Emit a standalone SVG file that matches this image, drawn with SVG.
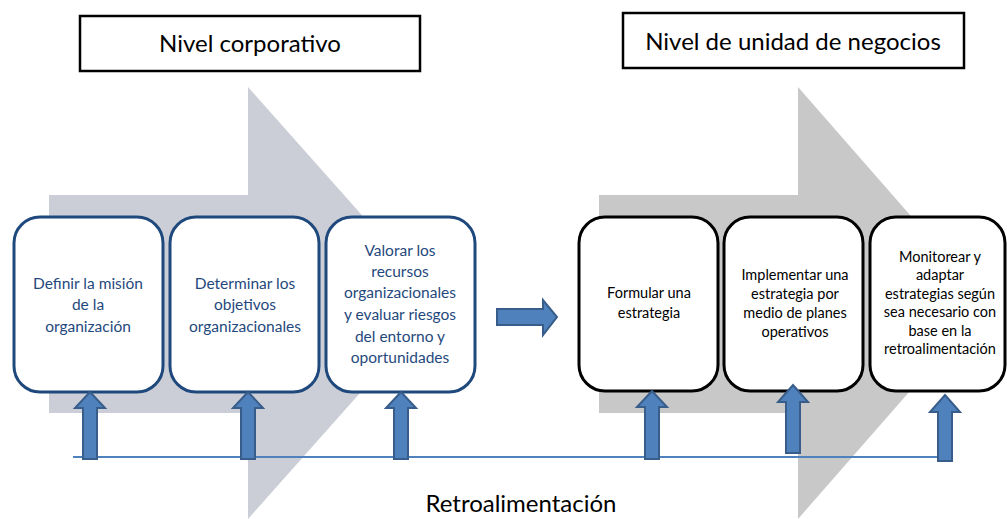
<svg xmlns="http://www.w3.org/2000/svg" width="1007" height="519" viewBox="0 0 1007 519">
<style>
.bg{fill:#ffffff}
.chev1{fill:#CBCED6}
.chev2{fill:#C8C8C8}
.title{fill:#ffffff;stroke:#000000;stroke-width:2.5}
.bbox{fill:#ffffff;stroke:#1F497D;stroke-width:3}
.kbox{fill:#ffffff;stroke:#000000;stroke-width:3}
.up{fill:#4F81BD;stroke:#385D8A;stroke-width:2}
.tt{font-family:Lato,"Liberation Sans",sans-serif;font-size:24px;fill:#000000;text-anchor:middle}
.bt{font-family:Lato,"Liberation Sans",sans-serif;font-size:15.5px;fill:#1F497D;text-anchor:middle}
.kt{font-family:Lato,"Liberation Sans",sans-serif;font-size:14.5px;fill:#000000;text-anchor:middle}
.fb{stroke:#4F81BD;stroke-width:2;fill:none}
</style>
<rect class="bg" x="0" y="0" width="1007" height="519"/>
<g id="chevron-corporativo"><polygon class="chev1" points="49,195 248,195 248,87 440,303 248,519 248,413 49,413"/></g>
<g id="chevron-negocios"><polygon class="chev2" points="599,195 798,195 798,87 987,303 798,519 798,413 599,413"/></g>
<g id="title-corporativo"><rect class="title" x="80" y="16" width="340" height="55"/><text class="tt" x="250" y="52">Nivel corporativo</text></g>
<g id="title-negocios"><rect class="title" x="623" y="13" width="341" height="55"/><text class="tt" x="793" y="50">Nivel de unidad de negocios</text></g>
<g id="box-mision"><rect class="bbox" x="14" y="217" width="149" height="175" rx="26"/>
<text class="bt" x="88"><tspan x="88" y="289">Definir la misión</tspan><tspan x="88" y="310">de la</tspan><tspan x="88" y="332">organización</tspan></text></g>
<g id="box-objetivos"><rect class="bbox" x="170" y="217" width="149" height="175" rx="26"/>
<text class="bt" x="245"><tspan x="245" y="289">Determinar los</tspan><tspan x="245" y="310">objetivos</tspan><tspan x="245" y="332">organizacionales</tspan></text></g>
<g id="box-recursos"><rect class="bbox" x="326" y="217" width="149" height="175" rx="26"/>
<text class="bt" x="400"><tspan x="400" y="256">Valorar los</tspan><tspan x="400" y="277">recursos</tspan><tspan x="400" y="298">organizacionales</tspan><tspan x="400" y="320">y evaluar riesgos</tspan><tspan x="400" y="342">del entorno y</tspan><tspan x="400" y="363">oportunidades</tspan></text></g>
<g id="box-formular"><rect class="kbox" x="579" y="217" width="139" height="174" rx="26"/>
<text class="kt" x="649"><tspan x="649" y="298">Formular una</tspan><tspan x="649" y="318">estrategia</tspan></text></g>
<g id="box-implementar"><rect class="kbox" x="724" y="217" width="139" height="174" rx="26"/>
<text class="kt" x="795"><tspan x="795" y="280">Implementar una</tspan><tspan x="795" y="299">estrategia por</tspan><tspan x="795" y="318">medio de planes</tspan><tspan x="795" y="337">operativos</tspan></text></g>
<g id="box-monitorear"><rect class="kbox" x="870" y="217" width="135" height="174" rx="26"/>
<text class="kt" x="940"><tspan x="940" y="262">Monitorear y</tspan><tspan x="940" y="280">adaptar</tspan><tspan x="940" y="299">estrategias según</tspan><tspan x="940" y="317">sea necesario con</tspan><tspan x="940" y="336">base en la</tspan><tspan x="940" y="354">retroalimentación</tspan></text></g>
<g id="connectors">
<line class="fb" x1="73" y1="457" x2="942" y2="457"/>
<polygon class="up" points="497,309 543,309 543,300 557,317 543,335 543,325 497,325"/>
<polygon class="up" points="90,392 105,408 97,408 97,459 83,459 83,408 75,408"/>
<polygon class="up" points="248,392 263,408 255,408 255,459 241,459 241,408 233,408"/>
<polygon class="up" points="401,392 416,408 408,408 408,459 394,459 394,408 386,408"/>
<polygon class="up" points="652,391 667,407 659,407 659,459 645,459 645,407 637,407"/>
<polygon class="up" points="793,385 808,402 800,402 800,453 786,453 786,402 778,402"/>
<polygon class="up" points="945,395 960,412 952,412 952,461 938,461 938,412 930,412"/>
</g>
<g id="label-retro"><text class="tt" x="521" y="512">Retroalimentación</text></g>
</svg>
